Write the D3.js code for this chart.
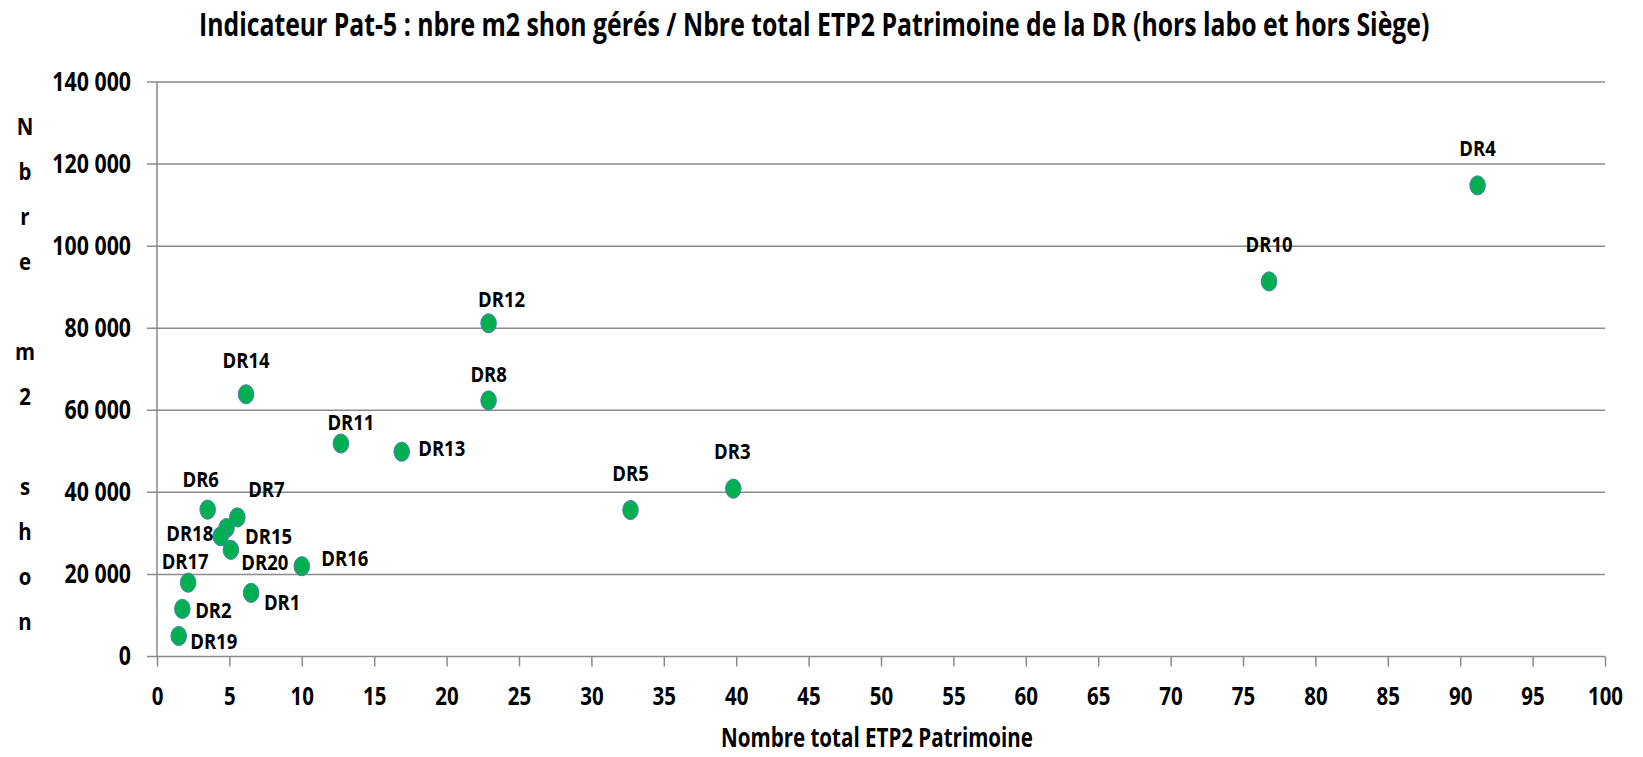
<!DOCTYPE html>
<html><head><meta charset="utf-8">
<script src="https://cdn.jsdelivr.net/npm/d3@7"></script>
<style>
html,body{margin:0;padding:0;background:#fff;}
svg{display:block;}
text{font-family:"Open Sans",sans-serif;font-weight:700;fill:#000;}
</style></head>
<body><svg id="c" width="1643" height="757"></svg>
<script>
// ---- data ----
const labels = ["DR1","DR2","DR3","DR4","DR5","DR6","DR7","DR8","DR10","DR11","DR12","DR13","DR14","DR15","DR16","DR17","DR18","DR19","DR20"];
const etp    = [6.5, 1.75, 39.8, 91.2, 32.7, 3.5, 5.55, 22.9, 76.8, 12.7, 22.9, 16.9, 6.15, 4.8, 10.0, 2.15, 4.4, 1.5, 5.1];
const shon   = [15500, 11600, 40900, 114800, 35700, 35800, 33900, 62400, 91400, 51900, 81200, 49900, 63900, 31300, 22000, 18000, 29300, 5000, 26000];
const xTicks = [0,5,10,15,20,25,30,35,40,45,50,55,60,65,70,75,80,85,90,95,100];
const xTickLabels = ["0","5","10","15","20","25","30","35","40","45","50","55","60","65","70","75","80","85","90","95","100"];
const yTicks = [0,20000,40000,60000,80000,100000,120000,140000];
const yTickLabels = ["0","20 000","40 000","60 000","80 000","100 000","120 000","140 000"];
const titleText = "Indicateur Pat-5 : nbre m2 shon gérés / Nbre total ETP2 Patrimoine de la DR (hors labo et hors Siège)";
const xTitleText = "Nombre total ETP2 Patrimoine";
const yTitleText = "Nbre m2 shon";

// ---- label placement (offset of label centre from marker, px) ----
const labelOffset = {
  DR1:[31,10], DR2:[31,2], DR3:[-1,-37], DR4:[0,-37], DR5:[0,-37], DR6:[-7,-30],
  DR7:[29,-28], DR8:[0,-26], DR10:[0,-37], DR11:[10,-21], DR12:[13,-24], DR13:[40,-3],
  DR14:[0,-34], DR15:[42,8], DR16:[43,-8], DR17:[-3,-21], DR18:[-31,-3], DR19:[35,6], DR20:[34,13]
};

const svg = d3.select("#c");
const X0 = 157, X1 = 1605, Y0 = 656.5, Y1 = 82;
const x = d3.scaleLinear().domain([0,100]).range([X0,X1]);
const y = d3.scaleLinear().domain([0,140000]).range([Y0,Y1]);
const gridColor = "#8a8a8a";

// gridlines (including base line)
svg.append("g").selectAll("line").data(yTicks).join("line")
  .attr("x1", X0-10).attr("x2", X1)
  .attr("y1", d=>y(d)).attr("y2", d=>y(d))
  .attr("stroke", gridColor).attr("stroke-width", 1.5);

// y axis line
svg.append("line").attr("x1",X0).attr("x2",X0).attr("y1",Y1).attr("y2",Y0)
  .attr("stroke", gridColor).attr("stroke-width", 1.5);

// y axis labels
const SXY = 0.82;
const yAxis = d3.axisLeft(y).tickValues(yTicks).tickSize(0).tickPadding(26)
  .tickFormat((d,i)=>yTickLabels[i]);
const gy = svg.append("g").attr("transform",`translate(${X0},0)`).call(yAxis);
gy.select(".domain").remove();
gy.selectAll("text").attr("font-size",26).attr("font-family","'Open Sans',sans-serif")
  .attr("font-weight",700).attr("fill","#000")
  .attr("x", -26/SXY).attr("transform",`scale(${SXY},1)`);

// x axis
const xAxis = d3.axisBottom(x).tickValues(xTicks).tickSize(10).tickSizeOuter(0).tickPadding(21)
  .tickFormat((d,i)=>xTickLabels[i]);
const gx = svg.append("g").attr("transform",`translate(0,${Y0})`).call(xAxis);
gx.select(".domain").remove();
gx.selectAll(".tick line").attr("stroke", gridColor).attr("stroke-width", 1.5);
gx.selectAll("text").attr("font-size",25).attr("font-family","'Open Sans',sans-serif")
  .attr("font-weight",700).attr("fill","#000")
  .attr("x", 0).attr("transform",`scale(0.82,1)`);

// markers
svg.append("g").selectAll("ellipse").data(labels).join("ellipse")
  .attr("cx",(d,i)=>x(etp[i])).attr("cy",(d,i)=>y(shon[i]))
  .attr("rx",7.8).attr("ry",9.6)
  .attr("fill","#00b050").attr("stroke","#4f7fb8").attr("stroke-width",1);

// data labels
const SXL = 0.88;
svg.append("g").selectAll("text").data(labels).join("text")
  .attr("text-anchor","middle").attr("font-size",21)
  .attr("transform",(d,i)=>{
    const o = labelOffset[d];
    return `translate(${x(etp[i])+o[0]},${y(shon[i])+o[1]+7.5}) scale(${SXL},1)`;
  })
  .text(d=>d);

// helper: fit a text horizontally to a target width via scale transform
function fitText(sel, cx, baseline, targetW, anchor){
  const len = sel.node().getComputedTextLength();
  const sx = targetW / len;
  sel.attr("text-anchor", anchor).attr("x",0).attr("y",0)
     .attr("transform", `translate(${cx},${baseline}) scale(${sx},1)`);
}

// title
const t = svg.append("text").attr("font-size",32).attr("font-weight",600).text(titleText);
fitText(t, 199, 36, 1231, "start");

// x title
const xt = svg.append("text").attr("font-size",27).attr("font-weight",600).text(xTitleText);
fitText(xt, 877, 747, 312, "middle");

// y title (stacked characters)
svg.append("g").selectAll("text").data(yTitleText.split("")).join("text")
  .attr("text-anchor","middle").attr("font-size",24)
  .attr("transform",(d,i)=>`translate(25,${126 + i*45 + 8.5}) scale(0.85,1)`)
  .text(d=>d);
</script>
</body></html>
